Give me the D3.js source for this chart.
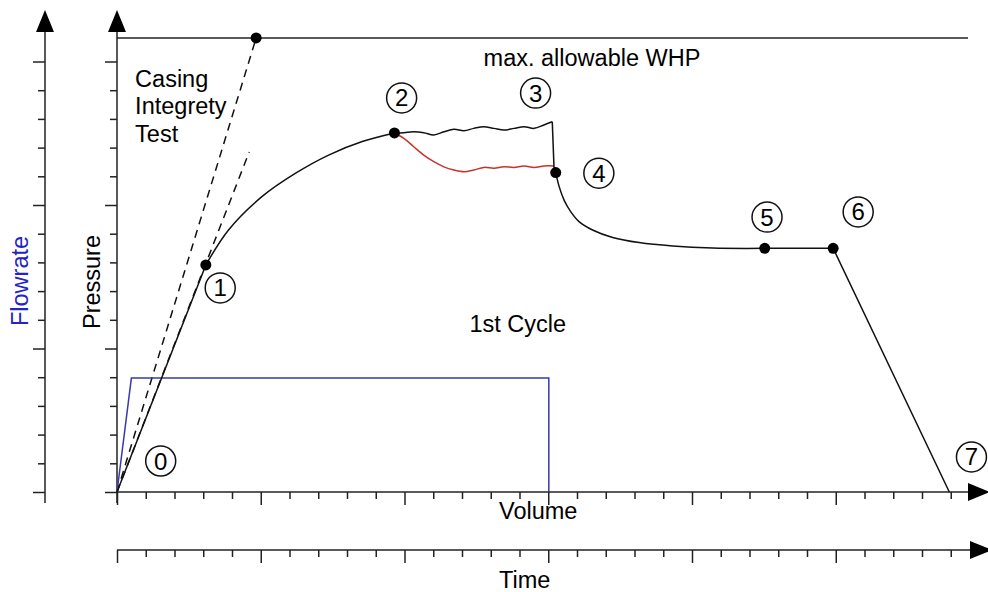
<!DOCTYPE html>
<html>
<head>
<meta charset="utf-8">
<script src="https://cdn.jsdelivr.net/npm/d3@7"></script>
<style>
  html, body { margin: 0; padding: 0; background: #fff; }
  svg { display: block; font-family: "Liberation Sans", Arial, Helvetica, sans-serif; }
</style>
</head>
<body>
<svg id="chart" width="988" height="592"></svg>
<script>
// ---- tick values (one minor tick per unit, a major tick every 5) ----
const volumeTicks   = d3.range(0, 30);
const timeTicks     = d3.range(0, 30);
const pressureTicks = d3.range(0, 16);
const flowTicks     = d3.range(0, 16);

// ---- pressure response, [volume, pressure] ----
const rampUp = [[0, 0], [3.09, 7.91]];
const buildUp = [[3.09, 7.91], [3.88, 9.13], [5.04, 10.29], [6.20, 11.10],
                 [7.36, 11.74], [8.53, 12.21], [9.65, 12.51]];
const propagation = [[9.65, 12.51], [9.98, 12.52], [10.32, 12.55], [10.67, 12.52],
                     [11.02, 12.44], [11.37, 12.55], [11.72, 12.64], [12.07, 12.59],
                     [12.41, 12.67], [12.76, 12.73], [13.11, 12.67], [13.46, 12.61],
                     [13.81, 12.67], [14.16, 12.73], [14.51, 12.67], [14.85, 12.79],
                     [15.14, 12.90]];
const shutIn = [[15.14, 12.90], [15.20, 11.32], [15.26, 11.13]];
const decline = [[15.26, 11.13], [15.38, 10.64], [15.55, 10.17], [15.78, 9.77],
                 [16.07, 9.42], [16.54, 9.13], [17.24, 8.87], [18.16, 8.69],
                 [19.33, 8.57], [20.72, 8.50], [22.53, 8.49]];
const flowback = [[22.53, 8.49], [24.91, 8.49], [28.95, 0]];
const propagationAlt = [[9.65, 12.51], [9.98, 12.32], [10.32, 12.03], [10.67, 11.74],
                        [11.02, 11.51], [11.37, 11.33], [11.72, 11.22], [12.07, 11.16],
                        [12.41, 11.22], [12.76, 11.31], [13.11, 11.28], [13.46, 11.33],
                        [13.81, 11.31], [14.16, 11.36], [14.51, 11.31], [14.85, 11.36],
                        [15.20, 11.36]];

// ---- limits and casing integrity test lines ----
const maxWHP = 15.82;
const maxWHPEnd = 29.6;
const casingTestA = [[0, 0], [4.84, 15.82]];
const casingTestB = [[0, 0], [4.60, 11.85]];

// ---- injection rate, [volume, flowrate] ----
const flowrate = [[0, 0], [0.5, 3.97], [15.02, 3.97], [15.02, 0]];

// ---- marked points and stage numbers ----
const markers = [[4.84, 15.82], [3.09, 7.91], [9.65, 12.51], [15.26, 11.13],
                 [22.53, 8.49], [24.91, 8.49]];
const stageIds = ["0", "1", "2", "3", "4", "5", "6", "7"];
const stageX   = [1.52, 3.59, 9.90, 14.56, 16.76, 22.61, 25.78, 29.72];
const stageY   = [1.08, 7.11, 13.73, 13.90, 11.11, 9.58, 9.76, 1.22];

const svg = d3.select("#chart");
const W = 988, H = 592;
svg.append("rect").attr("width", W).attr("height", H).attr("fill", "#fff");

const x = d3.scaleLinear().domain([0, 30]).range([117, 117 + 30 * 28.75]);
const xTime = d3.scaleLinear().domain([0, 30]).range([117, 117 + 30 * 28.75]);
const y = d3.scaleLinear().domain([0, 16]).range([492, 492 - 16 * 28.7]);
const yFlow = d3.scaleLinear().domain([0, 16]).range([492, 492 - 16 * 28.7]);

const axisColor = "#222";
const flowAxisX = 45;
const timeAxisY = 550;

function styleAxis(g, majorLen) {
  g.select(".domain").remove();
  g.selectAll(".tick line").attr("stroke", axisColor).attr("stroke-width", 1.5);
  g.selectAll(".tick").filter(d => d % 5 === 0).select("line").each(function () {
    const l = d3.select(this);
    if (l.attr("y2") !== null && +l.attr("y2") !== 0) l.attr("y2", majorLen);
    if (l.attr("x2") !== null && +l.attr("x2") !== 0) l.attr("x2", -majorLen);
  });
}

function arrow(g, tip, dir) {
  const L = 22, hw = 9;
  let pts;
  if (dir === "up") pts = [[tip[0], tip[1]], [tip[0] - hw, tip[1] + L], [tip[0] + hw, tip[1] + L]];
  else pts = [[tip[0], tip[1]], [tip[0] - L, tip[1] - hw], [tip[0] - L, tip[1] + hw]];
  g.append("path").attr("d", "M" + pts.join("L") + "Z").attr("fill", "#000");
}

const axes = svg.append("g");

// volume axis
const gVol = axes.append("g").attr("transform", `translate(0,${y(0)})`)
  .call(d3.axisBottom(x).tickValues(volumeTicks).tickSize(7).tickFormat(""));
styleAxis(gVol, 13);
axes.append("line").attr("x1", x(0)).attr("x2", 968).attr("y1", y(0)).attr("y2", y(0))
  .attr("stroke", axisColor).attr("stroke-width", 1.5);
arrow(axes, [990, y(0)], "right");

// time axis
const gTime = axes.append("g").attr("transform", `translate(0,${timeAxisY})`)
  .call(d3.axisBottom(xTime).tickValues(timeTicks).tickSize(7).tickFormat(""));
styleAxis(gTime, 13);
axes.append("line").attr("x1", xTime(0)).attr("x2", 970).attr("y1", timeAxisY).attr("y2", timeAxisY)
  .attr("stroke", axisColor).attr("stroke-width", 1.5);
arrow(axes, [992, timeAxisY], "right");

// pressure axis
const gP = axes.append("g").attr("transform", `translate(${x(0)},0)`)
  .call(d3.axisLeft(y).tickValues(pressureTicks).tickSize(7).tickFormat(""));
styleAxis(gP, 12);
axes.append("line").attr("x1", x(0)).attr("x2", x(0)).attr("y1", y(0) + 11).attr("y2", 32)
  .attr("stroke", axisColor).attr("stroke-width", 1.5);
arrow(axes, [x(0), 10], "up");

// flowrate axis
const gF = axes.append("g").attr("transform", `translate(${flowAxisX},0)`)
  .call(d3.axisLeft(yFlow).tickValues(flowTicks).tickSize(7).tickFormat(""));
styleAxis(gF, 12);
axes.append("line").attr("x1", flowAxisX).attr("x2", flowAxisX).attr("y1", yFlow(0) + 11).attr("y2", 32)
  .attr("stroke", axisColor).attr("stroke-width", 1.5);
arrow(axes, [flowAxisX, 10], "up");

// axis titles
const fs = 23.5;
svg.append("text").attr("x", 499).attr("y", 519).attr("font-size", fs).text("Volume");
svg.append("text").attr("x", 499).attr("y", 588).attr("font-size", fs).text("Time");
svg.append("text").attr("transform", "translate(100,282) rotate(-90)")
  .attr("text-anchor", "middle").attr("font-size", fs).text("Pressure");
svg.append("text").attr("transform", "translate(28,281) rotate(-90)")
  .attr("text-anchor", "middle").attr("font-size", fs).attr("fill", "#2323c8").text("Flowrate");

// curves
const plot = svg.append("g");
const straight = d3.line().x(d => x(d[0])).y(d => y(d[1]));
const smooth = d3.line().x(d => x(d[0])).y(d => y(d[1])).curve(d3.curveCatmullRom.alpha(0.5));
const flowLine = d3.line().x(d => x(d[0])).y(d => yFlow(d[1]));

// max. allowable WHP
plot.append("path").attr("d", straight([[0, maxWHP], [maxWHPEnd, maxWHP]]))
  .attr("fill", "none").attr("stroke", "#222").attr("stroke-width", 1.5);

// casing integrity test lines
[casingTestA, casingTestB].forEach(seg => {
  plot.append("path").attr("d", straight(seg)).attr("fill", "none")
    .attr("stroke", "#111").attr("stroke-width", 1.5).attr("stroke-dasharray", "8,6");
});

// flowrate
plot.append("path").attr("d", flowLine(flowrate)).attr("fill", "none")
  .attr("stroke", "#3a3aa8").attr("stroke-width", 1.5);

// alternative propagation response
plot.append("path").attr("d", smooth(propagationAlt)).attr("fill", "none")
  .attr("stroke", "#c8322c").attr("stroke-width", 1.5);

// main pressure response
[[rampUp, straight], [buildUp, smooth], [propagation, smooth], [shutIn, straight],
 [decline, smooth], [flowback, straight]].forEach(([pts, gen]) => {
  plot.append("path").attr("d", gen(pts)).attr("fill", "none")
    .attr("stroke", "#111").attr("stroke-width", 1.5).attr("stroke-linejoin", "round");
});

// markers
plot.selectAll("circle.marker").data(markers).join("circle")
  .attr("class", "marker").attr("cx", d => x(d[0])).attr("cy", d => y(d[1]))
  .attr("r", 5.5).attr("fill", "#000");

// stage numbers
const stages = svg.append("g").selectAll("g").data(stageIds).join("g")
  .attr("transform", (d, i) => `translate(${x(stageX[i])},${y(stageY[i])})`);
stages.append("circle").attr("r", 15).attr("fill", "#fff").attr("stroke", "#111").attr("stroke-width", 1.5);
stages.append("text").attr("text-anchor", "middle").attr("y", 8.5).attr("font-size", 24).text(d => d);

// annotations
svg.append("text").attr("x", x(12.75)).attr("y", y(14.84)).attr("font-size", fs).text("max. allowable WHP");
const cit = svg.append("text").attr("font-size", fs);
["Casing", "Integrety", "Test"].forEach((t, i) => {
  cit.append("tspan").attr("x", x(0.63)).attr("y", y([14.11, 13.17, 12.20][i])).text(t);
});
svg.append("text").attr("x", x(12.26)).attr("y", y(5.57)).attr("font-size", fs).text("1st Cycle");
</script>
</body>
</html>
